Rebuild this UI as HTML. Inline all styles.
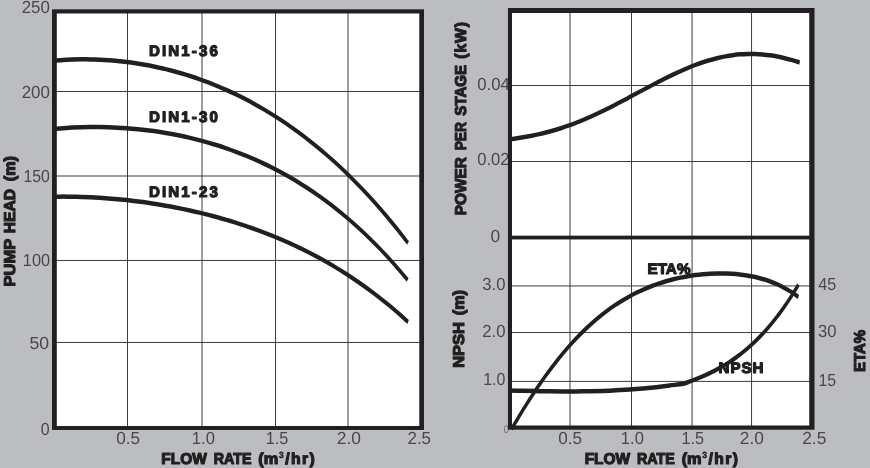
<!DOCTYPE html>
<html lang="en">
<head>
<meta charset="utf-8">
<title>Pump performance curves</title>
<style>
html,body{margin:0;padding:0;background:#bcbdc0;}
body{width:870px;height:468px;overflow:hidden;}
svg{display:block;font-family:"Liberation Sans",sans-serif;}
text{white-space:pre;text-rendering:geometricPrecision;}
</style>
</head>
<body>
<svg width="870" height="468" viewBox="0 0 870 468">
<rect width="870" height="468" fill="#bcbdc0"/>
<g id="plot-left">
<rect x="52.00" y="9.20" width="372.00" height="420.90" fill="#fff"/>
<rect x="127.00" y="10.20" width="1.00" height="418.90" fill="#3f3b3c"/>
<rect x="201.50" y="10.20" width="1.00" height="418.90" fill="#3f3b3c"/>
<rect x="275.00" y="10.20" width="1.00" height="418.90" fill="#3f3b3c"/>
<rect x="347.50" y="10.20" width="1.00" height="418.90" fill="#3f3b3c"/>
<rect x="53.00" y="91.00" width="370.00" height="1.00" fill="#3f3b3c"/>
<rect x="53.00" y="175.50" width="370.00" height="1.00" fill="#3f3b3c"/>
<rect x="53.00" y="259.95" width="370.00" height="1.00" fill="#3f3b3c"/>
<rect x="53.00" y="341.95" width="370.00" height="1.00" fill="#3f3b3c"/>
<path transform="scale(1 1.500)" d="M54.00,40.45 C55.51,40.38 60.05,40.12 63.08,40.00 C66.10,39.88 69.13,39.78 72.15,39.71 C75.18,39.64 78.21,39.59 81.23,39.58 C84.26,39.56 87.28,39.57 90.31,39.60 C93.33,39.64 96.36,39.70 99.38,39.79 C102.41,39.88 105.44,39.99 108.46,40.13 C111.49,40.27 114.51,40.44 117.54,40.64 C120.56,40.83 123.59,41.05 126.62,41.30 C129.64,41.55 132.67,41.83 135.69,42.14 C138.72,42.44 141.74,42.77 144.77,43.13 C147.79,43.49 150.82,43.88 153.85,44.30 C156.87,44.71 159.90,45.16 162.92,45.63 C165.95,46.11 168.97,46.61 172.00,47.14 C175.03,47.67 178.05,48.23 181.08,48.82 C184.10,49.41 187.13,50.03 190.15,50.68 C193.18,51.34 196.21,52.02 199.23,52.73 C202.26,53.44 205.28,54.18 208.31,54.96 C211.33,55.74 214.36,56.54 217.38,57.38 C220.41,58.22 223.44,59.09 226.46,60.00 C229.49,60.90 232.51,61.84 235.54,62.81 C238.56,63.78 241.59,64.79 244.62,65.83 C247.64,66.87 250.67,67.94 253.69,69.05 C256.72,70.16 259.74,71.31 262.77,72.49 C265.79,73.68 268.82,74.90 271.85,76.15 C274.87,77.41 277.90,78.70 280.92,80.04 C283.95,81.37 286.97,82.74 290.00,84.16 C293.03,85.57 296.05,87.02 299.08,88.51 C302.10,90.00 305.13,91.54 308.15,93.11 C311.18,94.69 314.21,96.30 317.23,97.96 C320.26,99.62 323.28,101.32 326.31,103.07 C329.33,104.82 332.36,106.61 335.38,108.45 C338.41,110.29 341.44,112.17 344.46,114.10 C347.49,116.03 350.51,118.01 353.54,120.03 C356.56,122.06 359.59,124.13 362.62,126.25 C365.64,128.38 368.67,130.55 371.69,132.78 C374.72,135.00 377.74,137.28 380.77,139.60 C383.79,141.93 386.82,144.31 389.85,146.75 C392.87,149.19 395.90,151.68 398.92,154.22 C401.95,156.77 406.49,160.73 408.00,162.03" fill="none" stroke="#231f20" stroke-width="3.00"/>
<path transform="scale(1 1.500)" d="M54.00,85.93 C55.51,85.85 60.04,85.59 63.07,85.45 C66.09,85.31 69.11,85.19 72.13,85.08 C75.16,84.98 78.18,84.91 81.20,84.85 C84.22,84.79 87.24,84.75 90.27,84.73 C93.29,84.71 96.31,84.71 99.33,84.73 C102.36,84.75 105.38,84.80 108.40,84.86 C111.42,84.92 114.44,85.01 117.47,85.11 C120.49,85.22 123.51,85.34 126.53,85.49 C129.56,85.64 132.58,85.80 135.60,86.00 C138.62,86.19 141.64,86.40 144.67,86.63 C147.69,86.87 150.71,87.13 153.73,87.41 C156.76,87.69 159.78,87.99 162.80,88.32 C165.82,88.64 168.84,88.99 171.87,89.37 C174.89,89.74 177.91,90.14 180.93,90.56 C183.96,90.98 186.98,91.43 190.00,91.91 C193.02,92.38 196.04,92.88 199.07,93.40 C202.09,93.93 205.11,94.48 208.13,95.06 C211.16,95.64 214.18,96.25 217.20,96.88 C220.22,97.52 223.24,98.18 226.27,98.88 C229.29,99.57 232.31,100.29 235.33,101.05 C238.36,101.80 241.38,102.58 244.40,103.40 C247.42,104.21 250.44,105.06 253.47,105.94 C256.49,106.82 259.51,107.73 262.53,108.68 C265.56,109.62 268.58,110.60 271.60,111.62 C274.62,112.64 277.64,113.69 280.67,114.78 C283.69,115.87 286.71,116.99 289.73,118.15 C292.76,119.32 295.78,120.52 298.80,121.76 C301.82,123.00 304.84,124.28 307.87,125.61 C310.89,126.93 313.91,128.29 316.93,129.70 C319.96,131.11 322.98,132.56 326.00,134.05 C329.02,135.55 332.04,137.08 335.07,138.67 C338.09,140.26 341.11,141.89 344.13,143.57 C347.16,145.25 350.18,146.98 353.20,148.76 C356.22,150.54 359.24,152.36 362.27,154.24 C365.29,156.13 368.31,158.06 371.33,160.05 C374.36,162.03 377.38,164.07 380.40,166.17 C383.42,168.27 386.44,170.42 389.47,172.63 C392.49,174.84 395.51,177.11 398.53,179.44 C401.56,181.77 406.09,185.42 407.60,186.62" fill="none" stroke="#231f20" stroke-width="3.00"/>
<path transform="scale(1 1.500)" d="M54.00,131.14 C55.51,131.13 60.05,131.08 63.08,131.08 C66.11,131.08 69.13,131.09 72.16,131.12 C75.19,131.15 78.21,131.20 81.24,131.26 C84.26,131.32 87.29,131.40 90.32,131.50 C93.34,131.59 96.37,131.71 99.40,131.83 C102.42,131.96 105.45,132.10 108.48,132.26 C111.50,132.42 114.53,132.59 117.56,132.78 C120.58,132.97 123.61,133.18 126.64,133.40 C129.66,133.62 132.69,133.86 135.72,134.11 C138.74,134.36 141.77,134.63 144.79,134.91 C147.82,135.20 150.85,135.49 153.87,135.81 C156.90,136.12 159.93,136.45 162.95,136.80 C165.98,137.15 169.01,137.51 172.03,137.89 C175.06,138.27 178.09,138.67 181.11,139.08 C184.14,139.49 187.17,139.92 190.19,140.37 C193.22,140.82 196.25,141.28 199.27,141.76 C202.30,142.24 205.32,142.74 208.35,143.26 C211.38,143.78 214.40,144.32 217.43,144.87 C220.46,145.43 223.48,146.00 226.51,146.60 C229.54,147.19 232.56,147.81 235.59,148.44 C238.62,149.08 241.64,149.73 244.67,150.41 C247.70,151.09 250.72,151.78 253.75,152.50 C256.78,153.23 259.80,153.97 262.83,154.73 C265.85,155.50 268.88,156.29 271.91,157.10 C274.93,157.92 277.96,158.75 280.99,159.62 C284.01,160.48 287.04,161.37 290.07,162.29 C293.09,163.20 296.12,164.14 299.15,165.12 C302.17,166.09 305.20,167.08 308.23,168.11 C311.25,169.14 314.28,170.19 317.31,171.28 C320.33,172.37 323.36,173.49 326.38,174.64 C329.41,175.79 332.44,176.97 335.46,178.18 C338.49,179.40 341.52,180.65 344.54,181.93 C347.57,183.22 350.60,184.54 353.62,185.89 C356.65,187.25 359.68,188.64 362.70,190.07 C365.73,191.50 368.76,192.97 371.78,194.48 C374.81,195.99 377.84,197.54 380.86,199.14 C383.89,200.73 386.91,202.36 389.94,204.04 C392.97,205.72 395.99,207.44 399.02,209.21 C402.05,210.98 406.59,213.75 408.10,214.66" fill="none" stroke="#231f20" stroke-width="3.00"/>
</g>
<g id="plot-right">
<rect x="507.90" y="8.00" width="306.70" height="421.70" fill="#fff"/>
<rect x="569.50" y="9.00" width="1.00" height="419.70" fill="#3f3b3c"/>
<rect x="631.00" y="9.00" width="1.00" height="419.70" fill="#3f3b3c"/>
<rect x="691.55" y="9.00" width="1.00" height="419.70" fill="#3f3b3c"/>
<rect x="751.05" y="9.00" width="1.00" height="419.70" fill="#3f3b3c"/>
<rect x="508.90" y="85.00" width="304.70" height="1.00" fill="#3f3b3c"/>
<rect x="508.90" y="161.00" width="304.70" height="1.00" fill="#3f3b3c"/>
<rect x="508.90" y="285.45" width="304.70" height="1.00" fill="#3f3b3c"/>
<rect x="508.90" y="332.05" width="304.70" height="1.00" fill="#3f3b3c"/>
<rect x="508.90" y="380.90" width="304.70" height="1.00" fill="#3f3b3c"/>
<rect x="508.90" y="235.65" width="304.70" height="3.80" fill="#231f20"/>
<path transform="scale(1 1.500)" d="M509.50,92.91 C510.74,92.79 514.46,92.45 516.94,92.19 C519.42,91.94 521.90,91.68 524.38,91.39 C526.86,91.10 529.34,90.80 531.82,90.47 C534.30,90.14 536.78,89.79 539.26,89.41 C541.74,89.03 544.22,88.63 546.71,88.20 C549.19,87.77 551.67,87.32 554.15,86.83 C556.63,86.35 559.11,85.83 561.59,85.29 C564.07,84.76 566.55,84.19 569.03,83.59 C571.51,83.00 573.99,82.38 576.47,81.73 C578.95,81.08 581.43,80.41 583.91,79.71 C586.39,79.02 588.87,78.29 591.35,77.55 C593.83,76.81 596.31,76.04 598.79,75.26 C601.27,74.47 603.75,73.67 606.23,72.85 C608.71,72.03 611.19,71.20 613.67,70.35 C616.15,69.50 618.64,68.64 621.12,67.77 C623.60,66.91 626.08,66.03 628.56,65.15 C631.04,64.26 633.52,63.38 636.00,62.49 C638.48,61.60 640.96,60.71 643.44,59.83 C645.92,58.95 648.40,58.06 650.88,57.19 C653.36,56.32 655.84,55.45 658.32,54.60 C660.80,53.75 663.28,52.91 665.76,52.09 C668.24,51.27 670.72,50.46 673.20,49.67 C675.68,48.89 678.16,48.12 680.64,47.39 C683.12,46.65 685.60,45.93 688.08,45.25 C690.56,44.56 693.05,43.91 695.53,43.28 C698.01,42.66 700.49,42.07 702.97,41.52 C705.45,40.96 707.93,40.44 710.41,39.97 C712.89,39.49 715.37,39.05 717.85,38.65 C720.33,38.25 722.81,37.89 725.29,37.58 C727.77,37.27 730.25,37.00 732.73,36.77 C735.21,36.55 737.69,36.37 740.17,36.24 C742.65,36.10 745.13,36.02 747.61,35.98 C750.09,35.94 752.57,35.95 755.05,36.00 C757.53,36.06 760.01,36.16 762.49,36.30 C764.98,36.45 767.46,36.64 769.94,36.87 C772.42,37.11 774.90,37.39 777.38,37.71 C779.86,38.03 782.34,38.39 784.82,38.78 C787.30,39.18 789.78,39.62 792.26,40.09 C794.74,40.55 798.46,41.34 799.70,41.59" fill="none" stroke="#231f20" stroke-width="3.00"/>
<path transform="scale(1 1.500)" d="M511.50,286.08 C512.73,284.70 516.40,280.50 518.86,277.79 C521.31,275.07 523.76,272.42 526.21,269.82 C528.66,267.22 531.12,264.68 533.57,262.21 C536.02,259.73 538.47,257.31 540.93,254.96 C543.38,252.61 545.83,250.32 548.28,248.10 C550.73,245.88 553.19,243.72 555.64,241.63 C558.09,239.54 560.54,237.51 562.99,235.55 C565.45,233.59 567.90,231.70 570.35,229.87 C572.80,228.04 575.26,226.27 577.71,224.57 C580.16,222.87 582.61,221.24 585.06,219.67 C587.52,218.09 589.97,216.58 592.42,215.13 C594.87,213.68 597.32,212.30 599.78,210.97 C602.23,209.64 604.68,208.37 607.13,207.15 C609.59,205.94 612.04,204.78 614.49,203.68 C616.94,202.58 619.39,201.53 621.85,200.53 C624.30,199.53 626.75,198.59 629.20,197.69 C631.65,196.79 634.11,195.94 636.56,195.14 C639.01,194.33 641.46,193.58 643.92,192.86 C646.37,192.15 648.82,191.48 651.27,190.85 C653.72,190.21 656.18,189.62 658.63,189.07 C661.08,188.52 663.53,188.01 665.98,187.53 C668.44,187.05 670.89,186.61 673.34,186.20 C675.79,185.79 678.25,185.42 680.70,185.08 C683.15,184.73 685.60,184.43 688.05,184.15 C690.51,183.87 692.96,183.62 695.41,183.41 C697.86,183.19 700.31,183.01 702.77,182.85 C705.22,182.70 707.67,182.57 710.12,182.48 C712.58,182.39 715.03,182.32 717.48,182.30 C719.93,182.27 722.38,182.27 724.84,182.30 C727.29,182.34 729.74,182.41 732.19,182.51 C734.64,182.62 737.10,182.76 739.55,182.95 C742.00,183.13 744.45,183.35 746.91,183.62 C749.36,183.88 751.81,184.19 754.26,184.55 C756.71,184.91 759.17,185.32 761.62,185.79 C764.07,186.25 766.52,186.77 768.97,187.35 C771.43,187.94 773.88,188.58 776.33,189.30 C778.78,190.02 781.24,190.80 783.69,191.67 C786.14,192.55 788.59,193.49 791.04,194.53 C793.50,195.58 797.17,197.38 798.40,197.95" fill="none" stroke="#231f20" stroke-width="3.00"/>
<path transform="scale(1 1.500)" d="M509.00,260.40 C511.23,260.43 517.92,260.52 522.38,260.57 C526.85,260.63 531.31,260.69 535.77,260.73 C540.23,260.78 544.69,260.83 549.15,260.86 C553.62,260.89 558.08,260.92 562.54,260.93 C567.00,260.94 571.46,260.95 575.92,260.93 C580.38,260.91 584.85,260.88 589.31,260.82 C593.77,260.77 598.23,260.70 602.69,260.60 C607.15,260.50 611.62,260.39 616.08,260.24 C620.54,260.09 625.00,259.92 629.46,259.71 C633.92,259.51 638.38,259.27 642.85,259.00 C647.31,258.73 651.77,258.43 656.23,258.09 C660.69,257.74 665.15,257.31 669.62,256.94 C674.08,256.57 679.49,256.34 683.00,255.87 C686.51,255.39 688.13,254.72 690.69,254.10 C693.26,253.47 695.82,252.82 698.39,252.13 C700.95,251.43 703.52,250.71 706.08,249.93 C708.64,249.14 711.21,248.32 713.77,247.44 C716.34,246.56 718.90,245.64 721.47,244.64 C724.03,243.65 726.60,242.60 729.16,241.48 C731.72,240.36 734.29,239.17 736.85,237.91 C739.42,236.65 741.98,235.32 744.55,233.90 C747.11,232.48 749.68,230.99 752.24,229.40 C754.80,227.81 757.37,226.15 759.93,224.38 C762.50,222.61 765.06,220.75 767.63,218.78 C770.19,216.81 772.76,214.75 775.32,212.58 C777.88,210.40 780.45,208.12 783.01,205.72 C785.58,203.32 788.14,200.81 790.71,198.17 C793.27,195.53 797.12,191.26 798.40,189.88" fill="none" stroke="#231f20" stroke-width="3.00"/>
</g>
<g id="ticks">
<text font-size="17.50" fill="#48484a" transform="translate(21.65 13.10) scale(0.9663 1)">250</text>
<text font-size="17.50" fill="#48484a" transform="translate(21.65 98.00) scale(0.9663 1)">200</text>
<text font-size="17.50" fill="#48484a" transform="translate(23.40 182.10) scale(0.9052 1)">150</text>
<text font-size="17.50" fill="#48484a" transform="translate(22.86 266.30) scale(0.9309 1)">100</text>
<text font-size="17.50" fill="#48484a" transform="translate(29.40 348.90) scale(1.0068 1)">50</text>
<text font-size="17.50" fill="#48484a" transform="translate(40.78 434.70) scale(0.9085 1)">0</text>
<text font-size="17.50" fill="#48484a" transform="translate(116.13 443.70) scale(0.9822 1)">0.5</text>
<text font-size="17.50" fill="#48484a" transform="translate(191.84 443.70) scale(0.9457 1)">1.0</text>
<text font-size="17.50" fill="#48484a" transform="translate(265.66 443.70) scale(0.9299 1)">1.5</text>
<text font-size="17.50" fill="#48484a" transform="translate(336.83 443.70) scale(0.9926 1)">2.0</text>
<text font-size="17.50" fill="#48484a" transform="translate(407.45 443.70) scale(0.9685 1)">2.5</text>
<text font-size="17.50" fill="#48484a" transform="translate(558.33 443.70) scale(0.9778 1)">0.5</text>
<text font-size="17.50" fill="#48484a" transform="translate(620.84 443.70) scale(0.9457 1)">1.0</text>
<text font-size="17.50" fill="#48484a" transform="translate(681.57 443.70) scale(0.9254 1)">1.5</text>
<text font-size="17.50" fill="#48484a" transform="translate(739.84 443.70) scale(0.9883 1)">2.0</text>
<text font-size="17.50" fill="#48484a" transform="translate(802.23 443.70) scale(0.9905 1)">2.5</text>
<text font-size="17.50" fill="#48484a" transform="translate(477.25 90.00) scale(0.9554 1)">0.04</text>
<text font-size="17.50" fill="#48484a" transform="translate(477.25 165.30) scale(0.9478 1)">0.02</text>
<text font-size="17.50" fill="#48484a" transform="translate(490.42 241.80) scale(0.9922 1)">0</text>
<text font-size="17.50" fill="#48484a" transform="translate(482.37 289.90) scale(0.9488 1)">3.0</text>
<text font-size="17.50" fill="#48484a" transform="translate(482.16 337.40) scale(0.9575 1)">2.0</text>
<text font-size="17.50" fill="#48484a" transform="translate(483.18 385.40) scale(0.9143 1)">1.0</text>
<text font-size="17.50" fill="#48484a" transform="translate(818.23 289.90) scale(0.9224 1)">45</text>
<text font-size="17.50" fill="#48484a" transform="translate(817.97 337.40) scale(0.9496 1)">30</text>
<text font-size="17.50" fill="#48484a" transform="translate(818.49 385.50) scale(0.9083 1)">15</text>
<text font-size="11.00" fill="#6d6e71" transform="translate(503.73 432.70) scale(0.8558 1)">0</text>
</g>
<g id="frames">
<path fill="#231f20" fill-rule="evenodd" d="M52.00,9.20H424.00V430.10H52.00Z M56.80,13.60H419.30V426.05H56.80Z"/>
<path fill="#231f20" fill-rule="evenodd" d="M507.90,8.00H814.60V429.70H507.90Z M512.00,13.00H809.25V425.50H512.00Z"/>
</g>
<g id="labels">
<text font-size="15.10" font-weight="700" fill="#231f20" stroke="#231f20" stroke-width="1.20" stroke-linejoin="round" y="55.80"><tspan x="148.89" letter-spacing="2.120">DIN1-36</tspan></text>
<text font-size="15.10" font-weight="700" fill="#231f20" stroke="#231f20" stroke-width="1.20" stroke-linejoin="round" y="122.40"><tspan x="148.89" letter-spacing="2.133">DIN1-30</tspan></text>
<text font-size="15.10" font-weight="700" fill="#231f20" stroke="#231f20" stroke-width="1.20" stroke-linejoin="round" y="196.80"><tspan x="148.89" letter-spacing="2.120">DIN1-23</tspan></text>
<text font-size="15.10" font-weight="700" fill="#231f20" stroke="#231f20" stroke-width="1.20" stroke-linejoin="round" y="273.50"><tspan x="647.48" textLength="43.02" lengthAdjust="spacingAndGlyphs">ETA%</tspan></text>
<text font-size="15.10" font-weight="700" fill="#231f20" stroke="#231f20" stroke-width="1.20" stroke-linejoin="round" y="372.90"><tspan x="718.59" letter-spacing="0.992">NPSH</tspan></text>
<text font-size="15.70" font-weight="700" fill="#231f20" stroke="#231f20" stroke-width="1.20" stroke-linejoin="round" y="464.40"><tspan x="161.37" textLength="45.44" lengthAdjust="spacingAndGlyphs">FLOW</tspan> <tspan x="213.64" textLength="37.92" lengthAdjust="spacingAndGlyphs">RATE</tspan> <tspan x="258.38" textLength="19.93" lengthAdjust="spacingAndGlyphs">(m</tspan><tspan font-size="9.00" stroke-width="0.50" dy="-6.10" x="279.06" textLength="4.70" lengthAdjust="spacingAndGlyphs">3</tspan><tspan dy="6.10" x="285.24" letter-spacing="1.383">/hr)</tspan></text>
<text font-size="15.70" font-weight="700" fill="#231f20" stroke="#231f20" stroke-width="1.20" stroke-linejoin="round" y="464.40"><tspan x="584.67" textLength="45.44" lengthAdjust="spacingAndGlyphs">FLOW</tspan> <tspan x="636.94" textLength="37.92" lengthAdjust="spacingAndGlyphs">RATE</tspan> <tspan x="681.68" textLength="19.93" lengthAdjust="spacingAndGlyphs">(m</tspan><tspan font-size="9.00" stroke-width="0.50" dy="-6.10" x="702.36" textLength="4.70" lengthAdjust="spacingAndGlyphs">3</tspan><tspan dy="6.10" x="708.54" letter-spacing="1.383">/hr)</tspan></text>
<text font-size="15.70" font-weight="700" fill="#231f20" stroke="#231f20" stroke-width="1.20" stroke-linejoin="round" transform="rotate(-90)" y="15.30"><tspan x="-286.40" textLength="47.36" lengthAdjust="spacingAndGlyphs">PUMP</tspan> <tspan x="-233.25" textLength="44.31" lengthAdjust="spacingAndGlyphs">HEAD</tspan> <tspan x="-181.21" textLength="25.23" lengthAdjust="spacingAndGlyphs">(m)</tspan></text>
<text font-size="15.70" font-weight="700" fill="#231f20" stroke="#231f20" stroke-width="1.20" stroke-linejoin="round" transform="rotate(-90)" y="465.90"><tspan x="-215.23" textLength="58.05" lengthAdjust="spacingAndGlyphs">POWER</tspan> <tspan x="-150.32" textLength="28.31" lengthAdjust="spacingAndGlyphs">PER</tspan> <tspan x="-115.74" textLength="50.92" lengthAdjust="spacingAndGlyphs">STAGE</tspan> <tspan x="-58.78" letter-spacing="0.955">(kW)</tspan></text>
<text font-size="15.70" font-weight="700" fill="#231f20" stroke="#231f20" stroke-width="1.20" stroke-linejoin="round" transform="rotate(-90)" y="464.00"><tspan x="-367.80" textLength="45.82" lengthAdjust="spacingAndGlyphs">NPSH</tspan> <tspan x="-315.21" textLength="25.23" lengthAdjust="spacingAndGlyphs">(m)</tspan></text>
<text font-size="15.70" font-weight="700" fill="#231f20" stroke="#231f20" stroke-width="1.20" stroke-linejoin="round" transform="rotate(-90)" y="865.00"><tspan x="-372.10" textLength="42.19" lengthAdjust="spacingAndGlyphs">ETA%</tspan></text>
</g>
</svg>
</body>
</html>
